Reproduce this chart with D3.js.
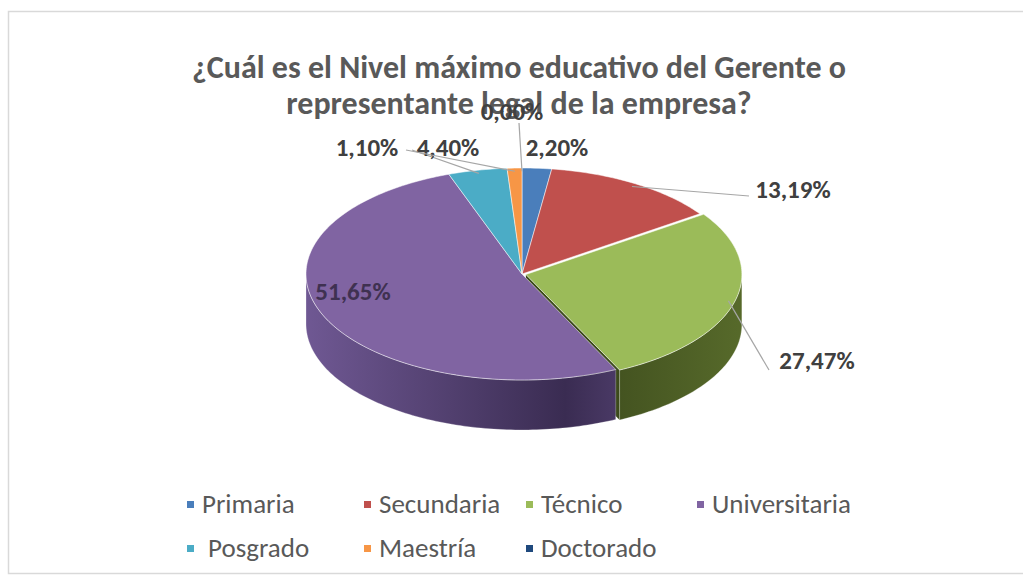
<!DOCTYPE html>
<html>
<head>
<meta charset="utf-8">
<script src="https://cdn.jsdelivr.net/npm/d3@7"></script>
<style>
  body { margin: 0; background: #fff; }
  svg { display: block; }
</style>
</head>
<body>
<div id="chart"></div>
<script>
// ---------------- DATA ----------------
const categories = ["Primaria", "Secundaria", "Técnico", "Universitaria", "Posgrado", "Maestría", "Doctorado"];
const values = [2.20, 13.19, 27.47, 51.65, 4.40, 1.10, 0.00];
const labels = ["2,20%", "13,19%", "27,47%", "51,65%", "4,40%", "1,10%", "0,00%"];
const titleLines = ["¿Cuál es el Nivel máximo educativo del Gerente o", "representante legal de la empresa?"];

// ---------------- LAYOUT ----------------
const W = 1023, H = 578;
const cx = 522, cy = 274, rx = 216, ry = 106, depth = 50;
const topColors = ["#4a7ebb", "#c0504d", "#9bbb59", "#8064a2", "#4bacc6", "#f79646", "#1f497d"];
const sideLight = ["#3a6296", "#973f3d", "#56692a", "#6f5893", "#3a8ba0", "#c47537", "#172f52"];
const sideDark  = ["#2a4a72", "#6e2d2b", "#3c4a1c", "#3a2c52", "#2b6a7b", "#965625", "#0f2038"];
const explode = [0, 0, 4, 0, 0, 0, 0];

// label anchor (center x, baseline y) and leader-line elbow
const labelPos = [
  { x: 557, y: 156, line: false },
  { x: 793, y: 198, line: true, elbow: [749, 196] },
  { x: 817, y: 369, line: true, elbow: [769, 370] },
  { x: 353, y: 300, line: false, inside: true },
  { x: 448, y: 156, line: true, elbow: [412, 150] },
  { x: 367, y: 156, line: true, elbow: [406, 150] },
  { x: 512, y: 120, line: true, elbow: [519, 123] }
];

const svg = d3.select("#chart").append("svg")
  .attr("width", W).attr("height", H)
  .style("font-family", "Carlito, Calibri, Lato, 'Open Sans', sans-serif");

// chart border
svg.append("rect")
  .attr("x", 8.5).attr("y", 11.5).attr("width", 1030).attr("height", 562)
  .attr("fill", "none").attr("stroke", "#d9d9d9").attr("stroke-width", 1.5);

const pie = d3.pie().sort(null).value(d => d).startAngle(0).endAngle(2 * Math.PI);
const arcs = pie(values);

function pt(a, r, dx, dy, z) {
  return [cx + dx + rx * r * Math.sin(a), cy + dy - ry * r * Math.cos(a) + (z || 0)];
}
function offset(d, i) {
  const m = (d.startAngle + d.endAngle) / 2;
  return [explode[i] * Math.sin(m), -explode[i] * Math.cos(m) * ry / rx];
}
function sampleAngles(a0, a1) {
  const n = Math.max(2, Math.ceil((a1 - a0) / 0.02));
  return d3.range(n + 1).map(k => a0 + (a1 - a0) * k / n);
}
const line = d3.line();

// gradients for side walls
const defs = svg.append("defs");
arcs.forEach((d, i) => {
  const g = defs.append("linearGradient").attr("id", "side" + i)
    .attr("gradientUnits", "userSpaceOnUse")
    .attr("x1", cx - rx).attr("x2", cx + rx).attr("y1", 0).attr("y2", 0);
  g.append("stop").attr("offset", "0%").attr("stop-color", sideLight[i]);
  g.append("stop").attr("offset", "60%").attr("stop-color", sideDark[i]);
  g.append("stop").attr("offset", "100%").attr("stop-color", sideLight[i]);
});

const walls = svg.append("g");
const tops = svg.append("g");

arcs.forEach((d, i) => {
  if (d.endAngle - d.startAngle <= 0) return;
  const [dx, dy] = offset(d, i);

  // radial wall at the end angle of an exploded slice, facing the viewer
  if (explode[i] > 0) {
    const a = d.endAngle;
    const c0 = pt(a, 0, dx, dy), r0 = pt(a, 1, dx, dy);
    walls.append("path")
      .attr("d", line([c0, r0, [r0[0], r0[1] + depth], [c0[0], c0[1] + depth]]) + "Z")
      .attr("fill", sideDark[i]);
  }

  // outer wall (front half only)
  const a0 = Math.max(d.startAngle, Math.PI / 2), a1 = Math.min(d.endAngle, 3 * Math.PI / 2);
  if (a1 > a0) {
    const angs = sampleAngles(a0, a1);
    const topEdge = angs.map(a => pt(a, 1, dx, dy));
    const botEdge = angs.slice().reverse().map(a => pt(a, 1, dx, dy, depth));
    walls.append("path")
      .attr("d", line(topEdge.concat(botEdge)) + "Z")
      .attr("fill", `url(#side${i})`)
      .attr("stroke", "rgba(255,255,255,0.35)").attr("stroke-width", 0.8);
  }

  // top face
  const angs = sampleAngles(d.startAngle, d.endAngle);
  const poly = [pt(0, 0, dx, dy)].concat(angs.map(a => pt(a, 1, dx, dy)));
  tops.append("path")
    .attr("d", line(poly) + "Z")
    .attr("fill", topColors[i])
    .attr("stroke", "rgba(255,255,255,0.5)").attr("stroke-width", 1);
});

// ---------------- TITLE ----------------
svg.append("g").selectAll("text").data(titleLines).join("text")
  .attr("x", 519).attr("y", (d, i) => 78 + i * 36)
  .attr("text-anchor", "middle")
  .attr("font-size", 32).attr("font-weight", 700)
  .attr("fill", "#595959")
  .text(d => d);

// ---------------- LABELS ----------------
const lab = svg.append("g");
arcs.forEach((d, i) => {
  const p = labelPos[i];
  const [dx, dy] = offset(d, i);
  const m = (d.startAngle + d.endAngle) / 2;
  if (p.line) {
    const rim = pt(m, 0.97, dx, dy);
    lab.append("path")
      .attr("d", line([rim, p.elbow]))
      .attr("fill", "none").attr("stroke", "#a6a6a6").attr("stroke-width", 1.2);
  }
  lab.append("text")
    .attr("x", p.x).attr("y", p.y)
    .attr("text-anchor", "middle")
    .attr("font-size", 25).attr("font-weight", 700)
    .attr("fill", p.inside ? "#3f3151" : "#404040")
    .text(labels[i]);
});

// ---------------- LEGEND ----------------
const legendCols = [190, 367, 529, 700];
const legendRows = [505, 549];
const leg = svg.append("g");
categories.forEach((c, i) => {
  const col = i % 4, row = Math.floor(i / 4);
  const x = legendCols[col], y = legendRows[row];
  leg.append("rect")
    .attr("x", x - 3).attr("y", y - 4).attr("width", 7).attr("height", 7)
    .attr("fill", topColors[i]);
  leg.append("text")
    .attr("x", x + (c === "Posgrado" ? 18 : 12)).attr("y", y + 8)
    .attr("font-size", 27).attr("fill", "#595959")
    .text(c);
});
</script>
</body>
</html>
